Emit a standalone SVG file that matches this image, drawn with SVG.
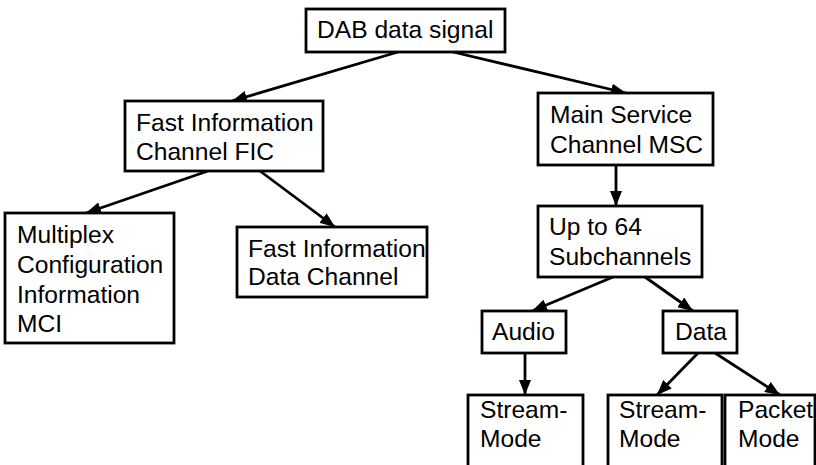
<svg xmlns="http://www.w3.org/2000/svg" width="816" height="465" viewBox="0 0 816 465">
<style>
.box{fill:#fff;stroke:#000;stroke-width:2.8}
.t{font-family:"Liberation Sans",Arial,sans-serif;font-size:24.6px;fill:#000}
.c{stroke:#000;stroke-width:2.8;fill:none;marker-end:url(#ah)}
</style>
<defs>
<marker id="ah" viewBox="0 0 15 12" refX="15" refY="6" markerWidth="15" markerHeight="12" markerUnits="userSpaceOnUse" orient="auto">
<path d="M0,0 L15,6 L0,12 z" fill="#000"/>
</marker>
</defs>
<rect width="816" height="465" fill="#fff"/>
<g id="connectors">
<line class="c" x1="398" y1="52" x2="232" y2="101"/>
<line class="c" x1="453" y1="52" x2="626" y2="93"/>
<line class="c" x1="208" y1="171" x2="86" y2="213"/>
<line class="c" x1="260" y1="171" x2="335" y2="227"/>
<line class="c" x1="616" y1="165" x2="616" y2="206"/>
<line class="c" x1="613" y1="277" x2="532" y2="311"/>
<line class="c" x1="645" y1="277" x2="693" y2="311"/>
<line class="c" x1="525" y1="353" x2="525" y2="395"/>
<line class="c" x1="698" y1="353" x2="657" y2="395"/>
<line class="c" x1="715" y1="353" x2="780" y2="395"/>
</g>
<g id="dab">
<rect class="box" x="306" y="9" width="199" height="43"/>
<text class="t" x="317" y="38">DAB data signal</text>
</g>
<g id="fic">
<rect class="box" x="125" y="101" width="198" height="70"/>
<text class="t" x="136" y="131">Fast Information</text>
<text class="t" x="136" y="160">Channel FIC</text>
</g>
<g id="msc">
<rect class="box" x="538" y="93" width="175" height="72"/>
<text class="t" x="550" y="123">Main Service</text>
<text class="t" x="550" y="153">Channel MSC</text>
</g>
<g id="mci">
<rect class="box" x="5" y="213" width="169" height="130"/>
<text class="t" x="17" y="243">Multiplex</text>
<text class="t" x="17" y="273">Configuration</text>
<text class="t" x="17" y="303">Information</text>
<text class="t" x="17" y="332">MCI</text>
</g>
<g id="fidc">
<rect class="box" x="237" y="227" width="190" height="70"/>
<text class="t" x="248" y="257">Fast Information</text>
<text class="t" x="248" y="285">Data Channel</text>
</g>
<g id="sub">
<rect class="box" x="538" y="206" width="164" height="71"/>
<text class="t" x="549" y="235">Up to 64</text>
<text class="t" x="549" y="265">Subchannels</text>
</g>
<g id="audio">
<rect class="box" x="482" y="311" width="84" height="42"/>
<text class="t" x="492" y="340">Audio</text>
</g>
<g id="data">
<rect class="box" x="663" y="311" width="74" height="42"/>
<text class="t" x="675" y="340">Data</text>
</g>
<g id="stream1">
<rect class="box" x="468" y="395" width="115" height="80"/>
<text class="t" x="480" y="418">Stream-</text>
<text class="t" x="480" y="447">Mode</text>
</g>
<g id="stream2">
<rect class="box" x="608" y="395" width="114" height="80"/>
<text class="t" x="619" y="418">Stream-</text>
<text class="t" x="619" y="447">Mode</text>
</g>
<g id="packet">
<rect class="box" x="725" y="395" width="90" height="80"/>
<text class="t" x="738" y="418">Packet</text>
<text class="t" x="738" y="447">Mode</text>
</g>
</svg>
